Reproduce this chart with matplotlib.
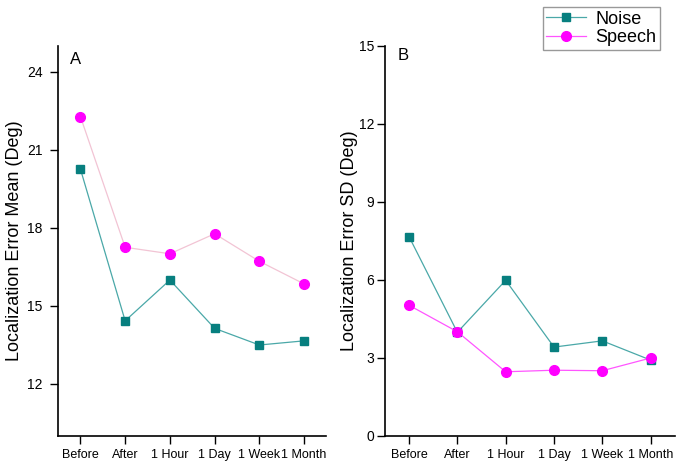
import matplotlib
matplotlib.use("Agg")
import matplotlib.pyplot as plt

plt.rcParams['font.family'] = ['Liberation Sans', 'DejaVu Sans']

# data
times = ["Before", "After", "1 Hour", "1 Day", "1 Week", "1 Month"]
mean_noise = [20.26, 14.42, 15.99, 14.13, 13.49, 13.65]
mean_speech = [22.28, 17.25, 17.0, 17.77, 16.71, 15.84]
sd_noise = [7.66, 3.98, 5.98, 3.41, 3.65, 2.91]
sd_speech = [5.02, 4.0, 2.46, 2.52, 2.5, 2.99]

teal = "#077f7f"
teal_line = "#4aa8a8"
magenta = "#ff00ff"

fig = plt.figure(figsize=(6.83, 4.68), dpi=100)
axA = fig.add_axes([0.085, 0.069, 0.393, 0.833])
axB = fig.add_axes([0.5635, 0.069, 0.4245, 0.833])

x = list(range(len(times)))

# panel A
axA.plot(x, mean_noise, color=teal_line, lw=0.9, marker="s", ms=6,
         mfc=teal, mec=teal, label="Noise")
axA.plot(x, mean_speech, color="#f2c4d4", lw=0.9, marker="o", ms=7,
         mfc=magenta, mec=magenta, label="Speech")
axA.set_ylim(10, 25)
axA.set_yticks([12, 15, 18, 21, 24])
axA.set_ylabel("Localization Error Mean (Deg)", fontsize=13, labelpad=3)
axA.tick_params(axis="y", pad=5)
axA.text(0.045, 0.965, "A", transform=axA.transAxes, fontsize=12, va="center")

# panel B
axB.plot(x, sd_noise, color=teal_line, lw=0.9, marker="s", ms=6,
         mfc=teal, mec=teal, label="Noise")
axB.plot(x, sd_speech, color="#ff55ff", lw=0.9, marker="o", ms=7,
         mfc=magenta, mec=magenta, label="Speech")
axB.set_ylim(0, 15)
axB.set_yticks([0, 3, 6, 9, 12, 15])
axB.set_ylabel("Localization Error SD (Deg)", fontsize=13, labelpad=1)
axB.tick_params(axis="y", pad=1.5)
axB.text(0.045, 0.975, "B", transform=axB.transAxes, fontsize=12, va="center")

for ax in (axA, axB):
    ax.set_xlim(-0.5, 5.5)
    ax.set_xticks(x)
    ax.set_xticklabels(times, fontsize=9)
    ax.tick_params(axis="y", labelsize=10, direction="out", length=6, width=1)
    ax.tick_params(axis="x", direction="out", length=6, width=1)
    ax.spines["top"].set_visible(False)
    ax.spines["right"].set_visible(False)
    ax.spines["left"].set_linewidth(1.2)
    ax.spines["bottom"].set_linewidth(1.2)

h, l = axB.get_legend_handles_labels()
leg = fig.legend(h, l, loc="upper right", bbox_to_anchor=(0.966, 0.985),
                 fontsize=13, frameon=True, fancybox=False, borderaxespad=0,
                 handlelength=2.2, borderpad=0.2, labelspacing=0.1,
                 handletextpad=0.5)
leg.get_frame().set_edgecolor("#808080")
leg.get_frame().set_linewidth(1.0)

fig.savefig("out.png", dpi=100)
